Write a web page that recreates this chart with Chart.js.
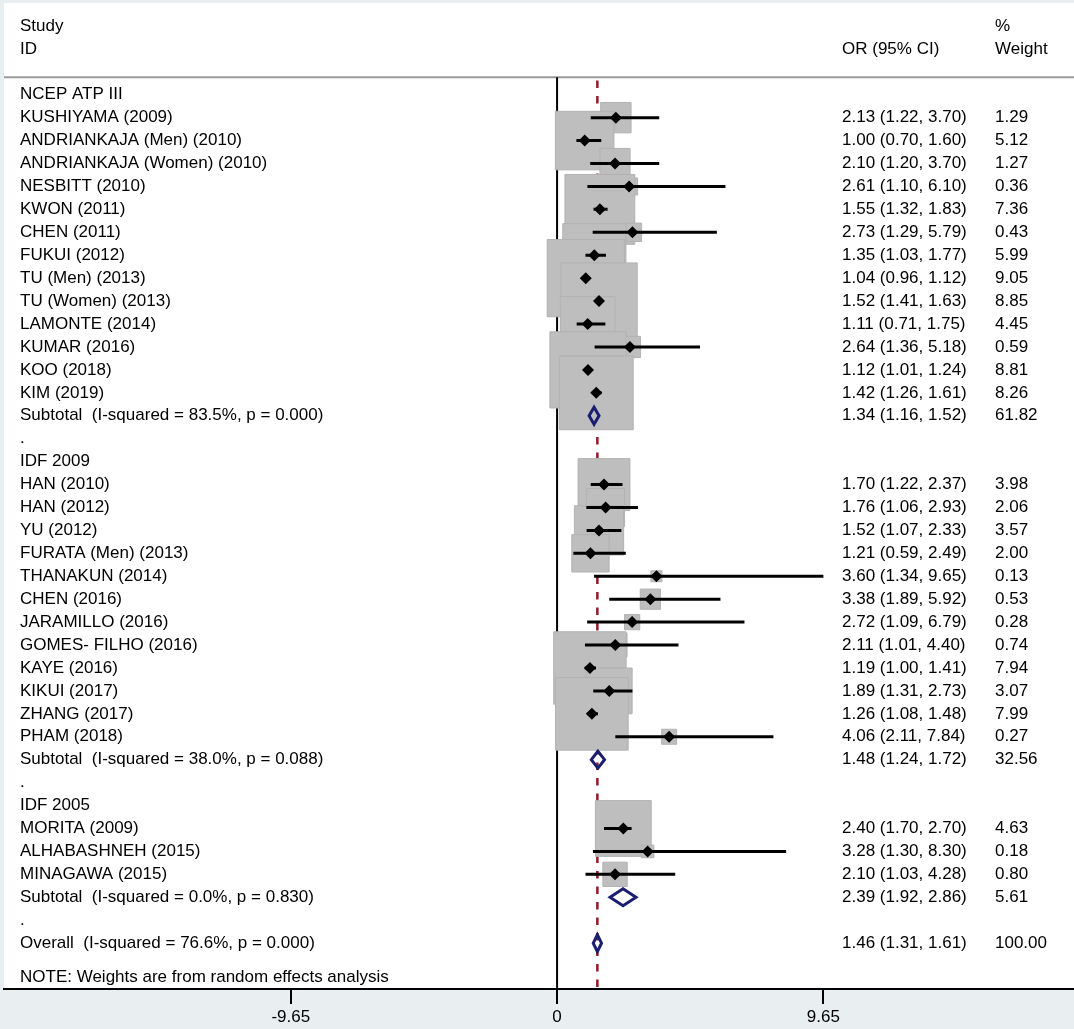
<!DOCTYPE html>
<html>
<head>
<meta charset="utf-8">
<title>Forest plot</title>
<script src="https://cdn.jsdelivr.net/npm/chart.js@4.4.0/dist/chart.umd.min.js"></script>
<style>
  html, body { margin: 0; padding: 0; background: #e9eef1; }
  canvas { display: block; }
</style>
</head>
<body>
<canvas id="forest" width="1074" height="1029"></canvas>
<script>
// table rows, top to bottom
const rowLabels = [
    'NCEP ATP III',
    'KUSHIYAMA (2009)', 'ANDRIANKAJA (Men) (2010)', 'ANDRIANKAJA (Women) (2010)', 'NESBITT (2010)',
    'KWON (2011)', 'CHEN (2011)', 'FUKUI (2012)', 'TU (Men) (2013)', 'TU (Women) (2013)',
    'LAMONTE (2014)', 'KUMAR (2016)', 'KOO (2018)', 'KIM (2019)',
    'Subtotal  (I-squared = 83.5%, p = 0.000)',
    '.',
    'IDF 2009',
    'HAN (2010)', 'HAN (2012)', 'YU (2012)', 'FURATA (Men) (2013)', 'THANAKUN (2014)',
    'CHEN (2016)', 'JARAMILLO (2016)', 'GOMES- FILHO (2016)', 'KAYE (2016)', 'KIKUI (2017)',
    'ZHANG (2017)', 'PHAM (2018)',
    'Subtotal  (I-squared = 38.0%, p = 0.088)',
    '.',
    'IDF 2005',
    'MORITA (2009)', 'ALHABASHNEH (2015)', 'MINAGAWA (2015)',
    'Subtotal  (I-squared = 0.0%, p = 0.830)',
    '.',
    'Overall  (I-squared = 76.6%, p = 0.000)'
];
const rowKind = [
    'head',
    'study', 'study', 'study', 'study', 'study', 'study', 'study', 'study', 'study', 'study', 'study', 'study', 'study',
    'sub', 'gap', 'head',
    'study', 'study', 'study', 'study', 'study', 'study', 'study', 'study', 'study', 'study', 'study', 'study',
    'sub', 'gap', 'head',
    'study', 'study', 'study',
    'sub', 'gap', 'total'
];
const orValues = [
    null,
    2.13, 1.00, 2.10, 2.61, 1.55, 2.73, 1.35, 1.04, 1.52, 1.11, 2.64, 1.12, 1.42,
    1.34, null, null,
    1.70, 1.76, 1.52, 1.21, 3.60, 3.38, 2.72, 2.11, 1.19, 1.89, 1.26, 4.06,
    1.48, null, null,
    2.40, 3.28, 2.10,
    2.39, null, 1.46
];
const ciLower = [
    null,
    1.22, 0.70, 1.20, 1.10, 1.32, 1.29, 1.03, 0.96, 1.41, 0.71, 1.36, 1.01, 1.26,
    1.16, null, null,
    1.22, 1.06, 1.07, 0.59, 1.34, 1.89, 1.09, 1.01, 1.00, 1.31, 1.08, 2.11,
    1.24, null, null,
    1.70, 1.30, 1.03,
    1.92, null, 1.31
];
const ciUpper = [
    null,
    3.70, 1.60, 3.70, 6.10, 1.83, 5.79, 1.77, 1.12, 1.63, 1.75, 5.18, 1.24, 1.61,
    1.52, null, null,
    2.37, 2.93, 2.33, 2.49, 9.65, 5.92, 6.79, 4.40, 1.41, 2.73, 1.48, 7.84,
    1.72, null, null,
    2.70, 8.30, 4.28,
    2.86, null, 1.61
];
const weights = [
    null,
    1.29, 5.12, 1.27, 0.36, 7.36, 0.43, 5.99, 9.05, 8.85, 4.45, 0.59, 8.81, 8.26,
    61.82, null, null,
    3.98, 2.06, 3.57, 2.00, 0.13, 0.53, 0.28, 0.74, 7.94, 3.07, 7.99, 0.27,
    32.56, null, null,
    4.63, 0.18, 0.80,
    5.61, null, 100.00
];
const xTickValues = [-9.65, 0, 9.65];
const xTickLabels = ['-9.65', '0', '9.65'];
const headerStudy = ['Study', 'ID'];
const headerEffect = 'OR (95% CI)';
const headerWeight = ['%', 'Weight'];
const noteText = 'NOTE: Weights are from random effects analysis';

const FONT = '"Liberation Sans", Arial, sans-serif';
const NAVY = '#1b1f6f';

const studyRows = [];
const pooledRows = [];
rowKind.forEach(function(kind, i) {
    if (kind === 'study') studyRows.push(i);
    if (kind === 'sub' || kind === 'total') pooledRows.push(i);
});
const overallRow = rowKind.indexOf('total');

// weight boxes: area follows the study weight
const boxData = studyRows.map(i => ({ x: orValues[i], y: i }));
const boxRadius = studyRows.map(i => (25 * Math.sqrt(weights[i]) + 2) / Math.SQRT2);

const pointData = studyRows.map(i => ({ x: orValues[i], y: i }));

const ciData = [];
studyRows.forEach(function(i) {
    ciData.push({ x: ciLower[i], y: i }, { x: ciUpper[i], y: i }, { x: null, y: null });
});

// pooled estimates as hollow diamonds spanning the CI
const halfH = 0.37;
const diamondData = [];
pooledRows.forEach(function(i) {
    diamondData.push(
        { x: ciLower[i], y: i },
        { x: orValues[i], y: i - halfH },
        { x: ciUpper[i], y: i },
        { x: orValues[i], y: i + halfH },
        { x: ciLower[i], y: i },
        { x: orValues[i], y: i - halfH },
        { x: null, y: null }
    );
});

const backgroundPlugin = {
    id: 'background',
    beforeDraw(chart) {
        const ctx = chart.ctx, a = chart.chartArea;
        ctx.save();
        ctx.fillStyle = '#e9eef1';
        ctx.fillRect(0, 0, chart.width, chart.height);
        ctx.fillStyle = '#ffffff';
        ctx.fillRect(a.left, a.top, a.right - a.left, a.bottom - a.top);
        ctx.restore();
    }
};

const refLinesPlugin = {
    id: 'refLines',
    beforeDatasetsDraw(chart) {
        const ctx = chart.ctx, a = chart.chartArea;
        const xs = chart.scales.x, ys = chart.scales.y;
        const headY = ys.getPixelForValue(-0.76);
        ctx.save();
        // header rule
        ctx.strokeStyle = '#9a9a9a';
        ctx.lineWidth = 2;
        ctx.beginPath();
        ctx.moveTo(a.left, headY);
        ctx.lineTo(a.right, headY);
        ctx.stroke();
        // line of no effect
        const x0 = xs.getPixelForValue(0);
        ctx.strokeStyle = '#000';
        ctx.beginPath();
        ctx.moveTo(x0, headY);
        ctx.lineTo(x0, a.bottom);
        ctx.stroke();
        // overall estimate
        const xo = xs.getPixelForValue(orValues[overallRow]);
        ctx.strokeStyle = '#921a2a';
        ctx.lineWidth = 2.5;
        ctx.setLineDash([7.5, 8]);
        ctx.beginPath();
        ctx.moveTo(xo, ys.getPixelForValue(-0.62));
        ctx.lineTo(xo, a.bottom);
        ctx.stroke();
        ctx.restore();
    }
};

const tablePlugin = {
    id: 'table',
    afterDatasetsDraw(chart) {
        const ctx = chart.ctx;
        const ys = chart.scales.y;
        const colLabel = 20, colEffect = 842, colWeight = 995;
        ctx.save();
        ctx.font = '17px ' + FONT;
        ctx.fillStyle = '#000';
        ctx.textBaseline = 'middle';
        ctx.textAlign = 'left';
        ctx.fillText(headerStudy[0], colLabel, ys.getPixelForValue(-3));
        ctx.fillText(headerStudy[1], colLabel, ys.getPixelForValue(-2));
        ctx.fillText(headerEffect, colEffect, ys.getPixelForValue(-2));
        ctx.fillText(headerWeight[0], colWeight, ys.getPixelForValue(-3));
        ctx.fillText(headerWeight[1], colWeight, ys.getPixelForValue(-2));
        rowLabels.forEach(function(label, i) {
            const y = ys.getPixelForValue(i);
            ctx.fillText(label, colLabel, y);
            if (orValues[i] !== null) {
                const txt = orValues[i].toFixed(2) + ' (' + ciLower[i].toFixed(2) + ', ' + ciUpper[i].toFixed(2) + ')';
                ctx.fillText(txt, colEffect, y);
                ctx.fillText(weights[i].toFixed(2), colWeight, y);
            }
        });
        ctx.fillText(noteText, colLabel, ys.getPixelForValue(rowLabels.length + 0.5));
        ctx.restore();
    }
};

new Chart(document.getElementById('forest'), {
    type: 'scatter',
    data: {
        datasets: [
            {
                label: 'points',
                data: pointData,
                pointStyle: 'rectRot',
                pointRadius: 6,
                pointHoverRadius: 6,
                backgroundColor: '#000',
                borderWidth: 0,
                order: 1
            },
            {
                label: 'pooled',
                data: diamondData,
                showLine: true,
                spanGaps: false,
                borderColor: NAVY,
                borderWidth: 3,
                borderJoinStyle: 'miter',
                pointRadius: 0,
                fill: false,
                order: 1
            },
            {
                label: 'ci',
                data: ciData,
                showLine: true,
                spanGaps: false,
                borderColor: '#000',
                borderWidth: 3,
                borderCapStyle: 'butt',
                pointRadius: 0,
                fill: false,
                order: 2
            },
            {
                label: 'weights',
                data: boxData,
                pointStyle: 'rect',
                pointRadius: boxRadius,
                pointHoverRadius: boxRadius,
                backgroundColor: '#bebebe',
                borderColor: '#b2b2b2',
                borderWidth: 1,
                order: 3
            }
        ]
    },
    options: {
        responsive: false,
        animation: false,
        events: [],
        layout: { autoPadding: false, padding: { left: 4, top: 3, right: 0, bottom: 0 } },
        plugins: {
            legend: { display: false },
            tooltip: { enabled: false }
        },
        scales: {
            x: {
                type: 'linear',
                min: -20.04,
                max: 18.73,
                afterBuildTicks: function(scale) {
                    scale.ticks = xTickValues.map(v => ({ value: v }));
                },
                afterFit: function(scale) {
                    scale.height = 40;
                },
                ticks: {
                    callback: function(value, index) { return xTickLabels[index]; },
                    font: { size: 17, family: FONT },
                    color: '#000',
                    padding: 3,
                    maxRotation: 0,
                    autoSkip: false
                },
                grid: {
                    drawOnChartArea: false,
                    drawTicks: true,
                    tickLength: 15,
                    color: '#000',
                    lineWidth: 2
                },
                border: { display: true, color: '#000', width: 2 }
            },
            y: {
                type: 'linear',
                display: false,
                reverse: true,
                min: -4,
                max: 39
            }
        }
    },
    plugins: [backgroundPlugin, refLinesPlugin, tablePlugin]
});
</script>
</body>
</html>
